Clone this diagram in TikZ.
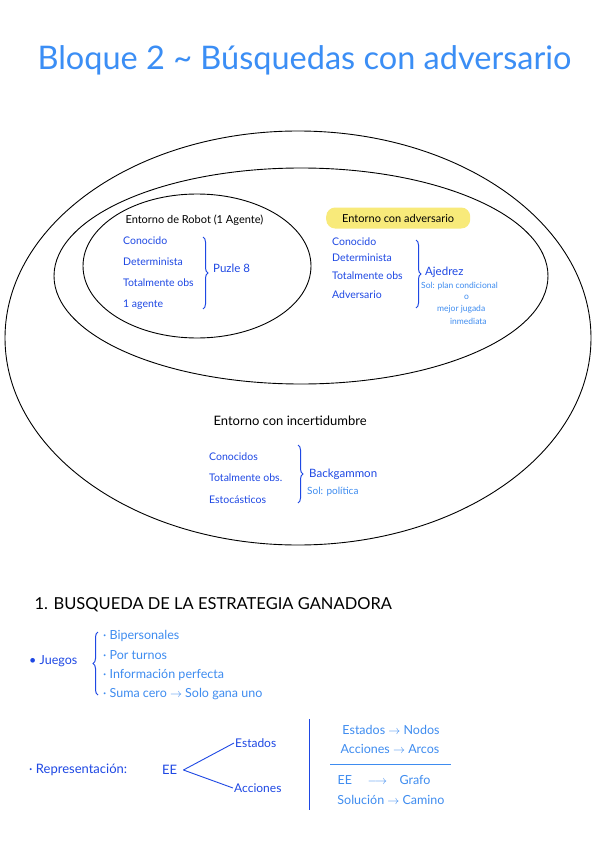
\documentclass[tikz,border=0pt]{standalone}
\usepackage{fontspec}
\setmainfont{Lato}
\usepackage{tikz}
\usetikzlibrary{shapes.geometric,decorations.pathreplacing,positioning}

\definecolor{titleblue}{RGB}{59,142,245}
\definecolor{inkblue}{RGB}{30,72,228}
\definecolor{lightink}{RGB}{62,140,240}
\definecolor{hlyellow}{RGB}{248,234,122}

\begin{document}
\begin{tikzpicture}[x=1pt, y=-1pt,
  env/.style={draw, ellipse, line width=0.9pt, inner sep=0pt},
  head/.style={anchor=west, font=\fontsize{11}{13}\selectfont, text=black},
  item/.style={anchor=west, font=\fontsize{10.5}{12}\selectfont, text=inkblue, inner sep=1pt},
  res/.style={anchor=west, font=\fontsize{11.5}{13}\selectfont, text=inkblue, inner sep=1pt},
  note/.style={anchor=west, font=\fontsize{8.5}{9}\selectfont, text=lightink, inner sep=1pt},
  pair/.style={font=\fontsize{12.5}{14}\selectfont, text=lightink, inner sep=1pt},
  brc/.style={decorate, decoration={brace, amplitude=5pt}, inkblue, line width=1pt},
  ink/.style={inkblue, line width=0.9pt},
]
\useasboundingbox[fill=white] (0,0) rectangle (600,848);

% title
\node[anchor=west, font=\fontsize{32.5}{38}\selectfont, text=titleblue] (title) at (34,60)
  {Bloque 2 \textasciitilde{} Búsquedas con adversario};

% nested environments
\node[env, minimum width=586pt, minimum height=414pt] (outer) at (298,338) {};
\node[env, minimum width=494pt, minimum height=216pt] (middle) at (301,276) {};
\node[env, minimum width=228pt, minimum height=144pt] (inner) at (197,266) {};

% robot
\node[head] (robot) at (122,220) {Entorno de Robot (1 Agente)};
\node[item] (r1) at (122,241) {Conocido};
\node[item] (r2) at (122,262) {Determinista};
\node[item] (r3) at (122,283) {Totalmente obs};
\node[item] (r4) at (122,305) {1 agente};
\draw[brc] (203,237) -- (203,309);
\node[res] (puzle) at (212,268) {Puzle 8};

% adversario
\node[head, fill=hlyellow, rounded corners=9pt, minimum height=21pt, minimum width=144pt] (adv) at (326,218)
  {Entorno con adversario};
\node[item] (a1) at (331,242) {Conocido};
\node[item] (a2) at (331,258) {Determinista};
\node[item] (a3) at (331,276) {Totalmente obs};
\node[item] (a4) at (331,295) {Adversario};
\draw[brc] (416,240) -- (416,308);
\node[res] (ajedrez) at (424,272) {Ajedrez};
\node[note] (sol) at (420,286) {Sol: plan condicional};
\node[note] (o) at (463,297) {o};
\node[note] (mejor) at (436,309) {mejor jugada};
\node[note] (inmed) at (449,321) {inmediata};

% incertidumbre
\node[head, font=\fontsize{13}{15}\selectfont] (incert) at (210,421) {Entorno con incertidumbre};
\node[item] (i1) at (208,457) {Conocidos};
\node[item] (i2) at (208,478) {Totalmente obs.};
\node[item] (i3) at (208,500) {Estocásticos};
\node[res] (backg) at (308,474) {Backgammon};
\node[note, font=\fontsize{10}{11}\selectfont] (polit) at (306,492) {Sol: política};
\draw[brc] (298,445) -- (298,503);

% section 1
\node[anchor=west, font=\fontsize{16.5}{19}\selectfont] (sec) at (31,605)
  {1. BUSQUEDA DE LA ESTRATEGIA GANADORA};

\node[res, font=\fontsize{12.5}{14}\selectfont] (juegos) at (28,661) {• Juegos};
\draw[brc] (98,695) -- (98,632);
\node[res, text=lightink, font=\fontsize{12.5}{14}\selectfont] (j1) at (102,636) {· Bipersonales};
\node[res, text=lightink, font=\fontsize{12.5}{14}\selectfont] (j2) at (102,655) {· Por turnos};
\node[res, text=lightink, font=\fontsize{12.5}{14}\selectfont] (j3) at (102,675) {· Información perfecta};
\node[res, text=lightink, font=\fontsize{12.5}{14}\selectfont] (j4) at (102,694) {· Suma cero $\to$ Solo gana uno};

% representacion
\node[res, font=\fontsize{13}{15}\selectfont] (repr) at (28,770) {· Representación:};
\node[res, font=\fontsize{13}{15}\selectfont] (ee) at (161,770) {EE};
\node[res, font=\fontsize{12}{14}\selectfont] (estados) at (234,743) {Estados};
\node[res, font=\fontsize{12}{14}\selectfont] (acciones) at (233,788) {Acciones};
\draw[ink] ([xshift=5pt]ee.east) -- (estados.west);
\draw[ink] ([xshift=5pt]ee.east) -- (acciones.west);

\draw[ink] (309,719) -- (309,810);
\node[pair] (m1) at (391,730) {Estados $\to$ Nodos};
\node[pair] (m2) at (390,749) {Acciones $\to$ Arcos};
\draw[lightink, line width=0.9pt] (330,764) -- (451,764);
\node[pair] (m3) at (384,780) {EE \quad$\longrightarrow$\quad Grafo};
\node[pair] (m4) at (391,800) {Solución $\to$ Camino};
\end{tikzpicture}
\end{document}
